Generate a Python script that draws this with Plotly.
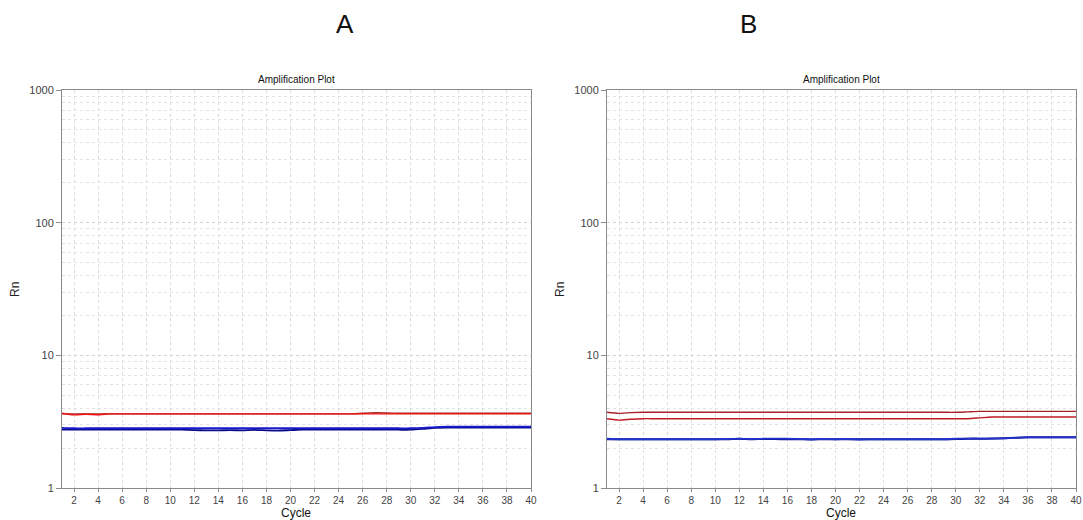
import plotly.graph_objects as go

cycles = list(range(1, 41))

# Panel A
A_red1 = [3.66, 3.56, 3.60, 3.57, 3.62] + [3.62] * 35
A_red2 = [3.62] * 25 + [3.66, 3.69, 3.68] + [3.66] * 12
A_blue1 = [2.84] + [2.82] * 29 + [2.84, 2.88] + [2.90] * 8
A_blue2 = [2.75] * 11 + [2.73, 2.72, 2.72, 2.73, 2.72, 2.74, 2.72, 2.71, 2.73] + [2.75] * 10 + [2.79, 2.84] + [2.85] * 8

# Panel B
B_red1 = [3.72, 3.65, 3.70] + [3.72] * 27 + [3.75] + [3.78] * 9
B_red2 = [3.33, 3.25, 3.30] + [3.33] * 28 + [3.38, 3.43] + [3.43] * 7
B_blue1 = [2.35] + [2.33] * 9 + [2.34, 2.36, 2.34, 2.35, 2.36, 2.35, 2.34, 2.33, 2.34, 2.33, 2.34, 2.32] + [2.33] * 7 + [2.35, 2.36, 2.36, 2.36, 2.37, 2.39] + [2.41] * 5
B_blue2 = [2.33] * 10 + [2.33, 2.35, 2.33, 2.34, 2.34, 2.33, 2.33, 2.32, 2.33, 2.33, 2.33, 2.33] + [2.33] * 7 + [2.34, 2.35, 2.35, 2.36, 2.37, 2.39] + [2.41] * 5

x_ticks = list(range(2, 41, 2))
y_ticks = [1, 10, 100, 1000]
y_minor = [m * d for d in (1, 10, 100) for m in range(2, 10)]

fig = go.Figure()

def add(x, y, color, width, xa, ya):
    fig.add_trace(go.Scatter(x=x, y=y, mode="lines", line=dict(color=color, width=width, shape="spline", smoothing=0.6),
                             xaxis=xa, yaxis=ya, showlegend=False, hoverinfo="skip"))

add(cycles, A_blue2, "#0a0a8a", 1.8, "x", "y")
add(cycles, A_blue1, "#1a1acc", 1.8, "x", "y")
add(cycles, A_red2, "#a8282a", 1.4, "x", "y")
add(cycles, A_red1, "#ee1111", 1.4, "x", "y")

add(cycles, B_blue2, "#0c0c88", 2.0, "x2", "y2")
add(cycles, B_blue1, "#2233cc", 1.8, "x2", "y2")
add(cycles, B_red2, "#c01c24", 1.4, "x2", "y2")
add(cycles, B_red1, "#a82228", 1.4, "x2", "y2")

xcommon = dict(range=[1, 40], tickvals=x_ticks, ticktext=[str(v) for v in x_ticks],
               showgrid=True, gridcolor="#dcdcdc", griddash="dot", gridwidth=1,
               showline=True, linecolor="#8a8a8a", linewidth=1, mirror=True,
               ticks="outside", ticklen=3, tickcolor="#8a8a8a",
               tickfont=dict(family="Liberation Sans, Arial", size=10, color="#444444"),
               zeroline=False, fixedrange=True, automargin=False)
ycommon = dict(type="log", range=[0, 3], tickvals=y_ticks, ticktext=[str(v) for v in y_ticks],
               showgrid=True, gridcolor="#d4d4d4", griddash="dot", gridwidth=1,
               minor=dict(tickvals=y_minor, showgrid=True, gridcolor="#e2e2e2", griddash="dot", ticks=""),
               showline=True, linecolor="#8a8a8a", linewidth=1, mirror=True,
               ticks="outside", ticklen=5, tickcolor="#8a8a8a",
               tickfont=dict(family="Liberation Sans, Arial", size=11, color="#444444"),
               zeroline=False, fixedrange=True, automargin=False)

W, H = 1083, 520
fig.update_layout(
    width=W, height=H, margin=dict(l=0, r=0, t=0, b=0, pad=0),
    paper_bgcolor="white", plot_bgcolor="white",
    xaxis=dict(domain=[62 / W, 531 / W], anchor="y", **xcommon),
    yaxis=dict(domain=[1 - 488 / H, 1 - 90 / H], anchor="x", **ycommon),
    xaxis2=dict(domain=[607 / W, 1076 / W], anchor="y2", **xcommon),
    yaxis2=dict(domain=[1 - 488 / H, 1 - 90 / H], anchor="x2", **ycommon),
)

font = "Liberation Sans, Arial"
ann = [
    dict(text="A", x=345 / W, y=1 - 24 / H, size=26),
    dict(text="B", x=748 / W, y=1 - 24 / H, size=26),
    dict(text="Amplification Plot", x=296 / W, y=1 - 79 / H, size=10),
    dict(text="Amplification Plot", x=841 / W, y=1 - 79 / H, size=10),
    dict(text="Cycle", x=296 / W, y=1 - 513 / H, size=12),
    dict(text="Cycle", x=841 / W, y=1 - 513 / H, size=12),
]
for a in ann:
    fig.add_annotation(text=a["text"], x=a["x"], y=a["y"], xref="paper", yref="paper",
                       xanchor="center", yanchor="middle", showarrow=False,
                       font=dict(family=font, size=a["size"], color="#111111"))
for xr in (15 / W, 560 / W):
    fig.add_annotation(text="Rn", x=xr, y=1 - 290 / H, xref="paper", yref="paper",
                       xanchor="center", yanchor="middle", showarrow=False, textangle=-90,
                       font=dict(family=font, size=12, color="#222222"))

fig.write_html("out.html")
